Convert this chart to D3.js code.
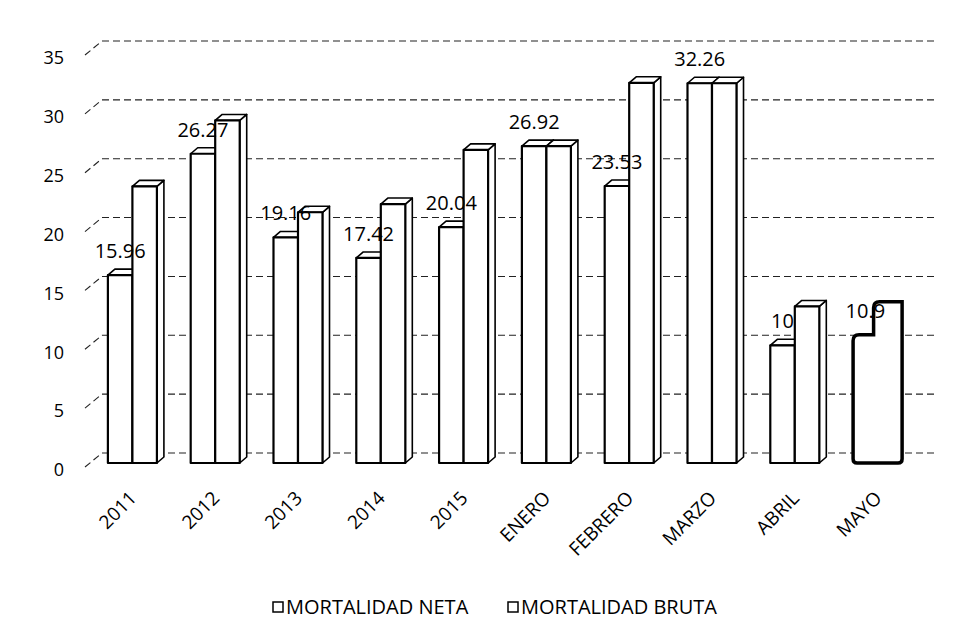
<!DOCTYPE html>
<html>
<head>
<meta charset="utf-8">
<script src="https://cdn.jsdelivr.net/npm/d3@7"></script>
<style>
  body { margin: 0; background: #fff; }
  text { font-family: "Open Sans", sans-serif; fill: #000; }
  .grid-line { stroke: #222; stroke-width: 1.1; stroke-dasharray: 7,4; fill: none; }
  .bar-face { fill: #fff; stroke: #000; stroke-width: 2.2; stroke-linejoin: round; }
  .bar-edge { fill: #fff; stroke: #000; stroke-width: 1.6; stroke-linejoin: round; }
</style>
</head>
<body>
<svg id="chart" width="971" height="641"></svg>
<script>
// data
var categories = ['2011', '2012', '2013', '2014', '2015', 'ENERO', 'FEBRERO', 'MARZO', 'ABRIL', 'MAYO'];
var seriesNames = ['MORTALIDAD NETA', 'MORTALIDAD BRUTA'];
var netaValues = [15.96, 26.27, 19.16, 17.42, 20.04, 26.92, 23.53, 32.26, 10, 10.9];
var brutaValues = [23.5, 29.1, 21.3, 22.0, 26.6, 26.92, 32.3, 32.26, 13.3, 13.7];
var netaLabels = ['15.96', '26.27', '19.16', '17.42', '20.04', '26.92', '23.53', '32.26', '10', '10.9'];
var yTicks = [0, 5, 10, 15, 20, 25, 30, 35];

var svg = d3.select('#chart');

var depthX = 7, depthY = 6;      // 3d offset of the bars
var wallX = 17, wallY = 14;      // offset of the back wall

var x = d3.scaleBand()
    .domain(categories)
    .range([91, 919])
    .paddingInner(0.408)
    .paddingOuter(0.204);

var xSeries = d3.scaleBand()
    .domain(seriesNames)
    .range([0, x.bandwidth()]);

var y = d3.scaleLinear()
    .domain([0, 35])
    .range([463, 51]);

var base = y(0);

//gridlines: a short slanted piece on the side wall and the long one on the back wall
var grid = svg.append('g');
grid.selectAll('.grid-side')
    .data(yTicks)
    .enter().append('line')
    .attr('class', 'grid-line')
    .attr('x1', 85)
    .attr('y1', function(d) { return y(d) + 4; })
    .attr('x2', 85 + wallX)
    .attr('y2', function(d) { return y(d) + 4 - wallY; });

grid.selectAll('.grid-back')
    .data(yTicks)
    .enter().append('line')
    .attr('class', 'grid-line')
    .attr('x1', 85 + wallX)
    .attr('y1', function(d) { return y(d) + 4 - wallY; })
    .attr('x2', 936)
    .attr('y2', function(d) { return y(d) + 4 - wallY; });

//y axis labels
svg.append('g')
    .selectAll('text')
    .data(yTicks)
    .enter().append('text')
    .attr('x', 64)
    .attr('y', function(d) { return y(d) + 7; })
    .attr('dy', '0.35em')
    .attr('text-anchor', 'end')
    .style('font-size', '18px')
    .text(function(d) { return d; });

//one 3d bar: front, top and right side
function drawBar(parent, x0, w, v) {
    var top = y(v);
    parent.append('path')
        .attr('class', 'bar-edge')
        .attr('d', 'M' + (x0 + w) + ',' + top +
            'L' + (x0 + w + depthX) + ',' + (top - depthY) +
            'L' + (x0 + w + depthX) + ',' + (base - depthY) +
            'L' + (x0 + w) + ',' + base + 'Z');
    parent.append('path')
        .attr('class', 'bar-edge')
        .attr('d', 'M' + x0 + ',' + top +
            'L' + (x0 + depthX) + ',' + (top - depthY) +
            'L' + (x0 + w + depthX) + ',' + (top - depthY) +
            'L' + (x0 + w) + ',' + top + 'Z');
    parent.append('rect')
        .attr('class', 'bar-face')
        .attr('x', x0)
        .attr('y', top)
        .attr('width', w)
        .attr('height', base - top);
}

var bars = svg.append('g');
categories.forEach(function(c, i) {
    var g = bars.append('g');
    var xn = x(c) + xSeries(seriesNames[0]);
    var xb = x(c) + xSeries(seriesNames[1]);
    var w = xSeries.bandwidth();

    if (c === 'MAYO') {
        // the last pair is printed as one heavy outline in the source
        var tn = y(netaValues[i]), tb = y(brutaValues[i]);
        g.append('path')
            .attr('d', 'M' + xn + ',' + (base - 4) +
                'L' + xn + ',' + (tn + 6) + 'Q' + xn + ',' + tn + ' ' + (xn + 6) + ',' + tn +
                'L' + (xb - 4) + ',' + tn + 'L' + (xb - 4) + ',' + (tb + 6) + 'Q' + (xb - 4) + ',' + tb + ' ' + (xb + 2) + ',' + tb +
                'L' + (xb + w) + ',' + tb + 'L' + (xb + w) + ',' + (base - 4) +
                'Q' + (xb + w) + ',' + base + ' ' + (xb + w - 4) + ',' + base +
                'L' + (xn + 4) + ',' + base + 'Q' + xn + ',' + base + ' ' + xn + ',' + (base - 4) + 'Z')
            .attr('fill', '#fff')
            .attr('stroke', '#000')
            .attr('stroke-width', 3.5);
        return;
    }
    drawBar(g, xn, w, netaValues[i]);
    drawBar(g, xb, w, brutaValues[i]);
});

//data labels of the first series
svg.append('g')
    .selectAll('text')
    .data(netaValues)
    .enter().append('text')
    .attr('x', function(d, i) { return x(categories[i]) + xSeries(seriesNames[0]) + xSeries.bandwidth() / 2; })
    .attr('y', function(d) { return y(d) - 17; })
    .attr('text-anchor', 'middle')
    .style('font-size', '20px')
    .text(function(d, i) { return netaLabels[i]; });

//category labels, slanted
svg.append('g')
    .selectAll('text')
    .data(categories)
    .enter().append('text')
    .attr('transform', function(d) {
        return 'translate(' + (x(d) + x.bandwidth() / 2 - 4) + ',490) rotate(-45)';
    })
    .attr('dy', '0.7em')
    .attr('text-anchor', 'end')
    .style('font-size', '19px')
    .text(function(d) { return d; });

//legend
var legend = svg.append('g')
    .selectAll('g')
    .data(seriesNames)
    .enter().append('g')
    .attr('transform', function(d, i) { return 'translate(' + (273 + i * 235) + ',607)'; });

legend.append('rect')
    .attr('x', 0)
    .attr('y', -5)
    .attr('width', 10)
    .attr('height', 10)
    .attr('fill', '#fff')
    .attr('stroke', '#000')
    .attr('stroke-width', 1.5);

legend.append('text')
    .attr('x', 13)
    .attr('y', 0)
    .attr('dy', '0.35em')
    .style('font-size', '20px')
    .text(function(d) { return d; });
</script>
</body>
</html>
